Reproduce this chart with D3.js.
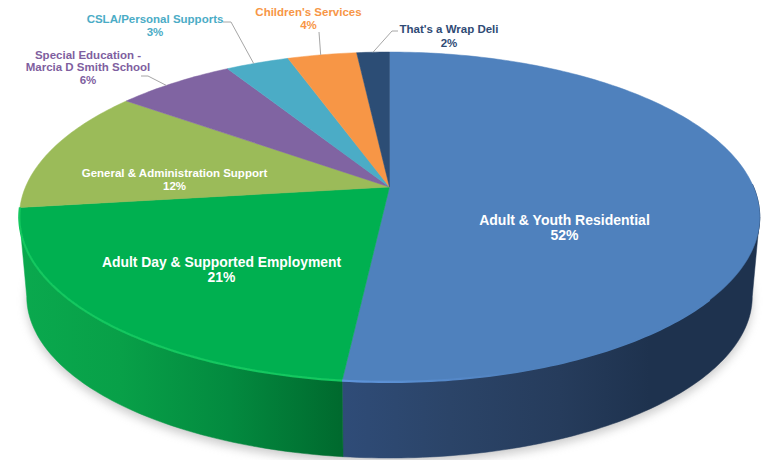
<!DOCTYPE html>
<html><head><meta charset="utf-8">
<script src="https://cdn.jsdelivr.net/npm/d3@7/dist/d3.min.js"></script>
<style>html,body{margin:0;padding:0;background:#fff}svg{display:block}text{font-family:"Liberation Sans",Arial,sans-serif;font-weight:700;text-anchor:middle}</style>
</head><body><svg id="c" width="766" height="460"></svg>
<script>
const categories = ["Adult & Youth Residential","Adult Day & Supported Employment","General & Administration Support","Special Education -|Marcia D Smith School","CSLA/Personal Supports","Children's Services","That's a Wrap Deli"];
const values = [51.7,21.3,12.2,6.2,3.3,3.6,1.7];
const colors = ["#4f81bd","#00b050","#9bbb59","#8064a2","#4bacc6","#f79646","#2c4d75"];
const labelColors = ["#ffffff","#ffffff","#ffffff","#7f5f9f","#4bacc6","#f79646","#2f4b75"];
const labelSizes = [14,13.9,11.5,11.5,11.5,11.5,11.5];
const labelPos = [[564.5,225],[221.5,267],[174.5,177],[88,59],[155,23],[308.5,16],[449,33]];
const lineHeights = [15,15,13,12.3,13,13,14];
const leaders = [null,null,null,[[141,76],[148,76]],[[223,22],[231,22]],[[319,32],[319,32]],[[398,31],[392,31]]];
const leaderFrac = [0,0,0,0.42,0.44,0.48,0.5];
const wallStops = [
  [[341,"#2f4c78"],[450,"#2b4468"],[560,"#263c5c"],[650,"#1e324e"]],
  [[20,"#0aa94e"],[120,"#08a048"],[230,"#038a3f"],[340,"#006a2e"]]];

const svg = d3.select("#c");
const cx = 389.5, cyTop = 187, k = 0.1818, a = 159.5, b = 364;
const depth = 80, lowerScale = 0.98;
const pie = d3.pie().sort(null).value(d=>d).startAngle(0).endAngle(2*Math.PI);
const arcs = pie(values);
const silR = Math.acos(-k), silL = 2*Math.PI - silR;
function proj(th, lower){
  const s = Math.sin(th), t = -Math.cos(th), w = 1-k*t;
  const f = lower ? lowerScale : 1;
  return [cx + f*b*s/w, cyTop + (lower?depth:0) + f*a*t/w];
}
function samples(a0,a1,lower){
  const n = Math.max(4,Math.ceil((a1-a0)*60));
  return d3.range(n+1).map(i=>proj(a0+(a1-a0)*i/n,lower));
}
const line = d3.line();
const defs = svg.append("defs");
defs.append("filter").attr("id","sh").attr("x","-10%").attr("y","-10%").attr("width","120%").attr("height","120%")
  .append("feGaussianBlur").attr("stdDeviation",5);
const soft = defs.append("filter").attr("id","soft").attr("filterUnits","userSpaceOnUse").attr("x",0).attr("y",0).attr("width",766).attr("height",460);
soft.append("feGaussianBlur").attr("stdDeviation",0.7);
wallStops.forEach((st,i)=>{
  const g = defs.append("linearGradient").attr("id","w"+i).attr("gradientUnits","userSpaceOnUse")
    .attr("x1",st[0][0]).attr("x2",st[st.length-1][0]).attr("y1",0).attr("y2",0);
  st.forEach(s=>g.append("stop").attr("offset",(s[0]-st[0][0])/(st[st.length-1][0]-st[0][0])).attr("stop-color",s[1]));
});
const bev = defs.append("linearGradient").attr("id","bevB").attr("gradientUnits","userSpaceOnUse").attr("x1",341).attr("x2",520).attr("y1",0).attr("y2",0);
bev.append("stop").attr("offset",0).attr("stop-color","#5f95dc");
bev.append("stop").attr("offset",1).attr("stop-color","#4f81bd");

// shadow
svg.append("path").attr("d",line(samples(0,2*Math.PI,true))+"Z").attr("fill","#9a9a9a").attr("opacity",.5)
  .attr("transform","translate(0,5)").attr("filter","url(#sh)");
// walls: only the near arc between the two silhouette angles is visible
[0,1].forEach(i=>{
  const d = arcs[i], st = Math.max(d.startAngle,silR), end = Math.min(d.endAngle,silL);
  const pts = samples(st,end,false).concat(samples(st,end,true).reverse());
  const f = `url(#w${i})`;
  svg.append("path").attr("d",line(pts)+"Z").attr("fill",f).attr("stroke",f).attr("stroke-width",.5);
});
// dark soft edge on blue rim at right
svg.append("path").attr("d",line(samples(silR-0.2,arcs[0].endAngle-1.0,false)))
  .attr("fill","none").attr("stroke","#2d4a70").attr("stroke-width",1.2).attr("filter","url(#soft)");
// top
arcs.forEach((d,i)=>{
  const pts = [[cx,cyTop]].concat(samples(d.startAngle,d.endAngle,false));
  svg.append("path").attr("d",line(pts)+"Z").attr("fill",colors[i]).attr("stroke",colors[i]).attr("stroke-width",.5);
});
// bevel highlights on near rim
svg.append("path").attr("d",line(samples(arcs[1].startAngle,arcs[1].endAngle,false)))
  .attr("fill","none").attr("stroke","#12c75f").attr("stroke-width",2.2).attr("filter","url(#soft)");
svg.append("path").attr("d",line(samples(arcs[0].endAngle-1.0,arcs[0].endAngle,false)))
  .attr("fill","none").attr("stroke","url(#bevB)").attr("stroke-width",2.2).attr("filter","url(#soft)");
// leaders
arcs.forEach((d,i)=>{
  if(!leaders[i]) return;
  const rim = proj(d.startAngle+(d.endAngle-d.startAngle)*leaderFrac[i],false);
  svg.append("path").attr("d",line([...leaders[i],rim])).attr("fill","none").attr("stroke","#a6a6a6").attr("stroke-width",1);
});
// labels
categories.forEach((c,i)=>{
  const lines = c.split("|").concat(Math.round(values[i])+"%");
  const t = svg.append("text").attr("fill",labelColors[i]).attr("font-size",labelSizes[i]);
  lines.forEach((l,j)=>t.append("tspan").attr("x",labelPos[i][0]).attr("y",labelPos[i][1]+j*lineHeights[i]).text(l));
});
</script></body></html>
